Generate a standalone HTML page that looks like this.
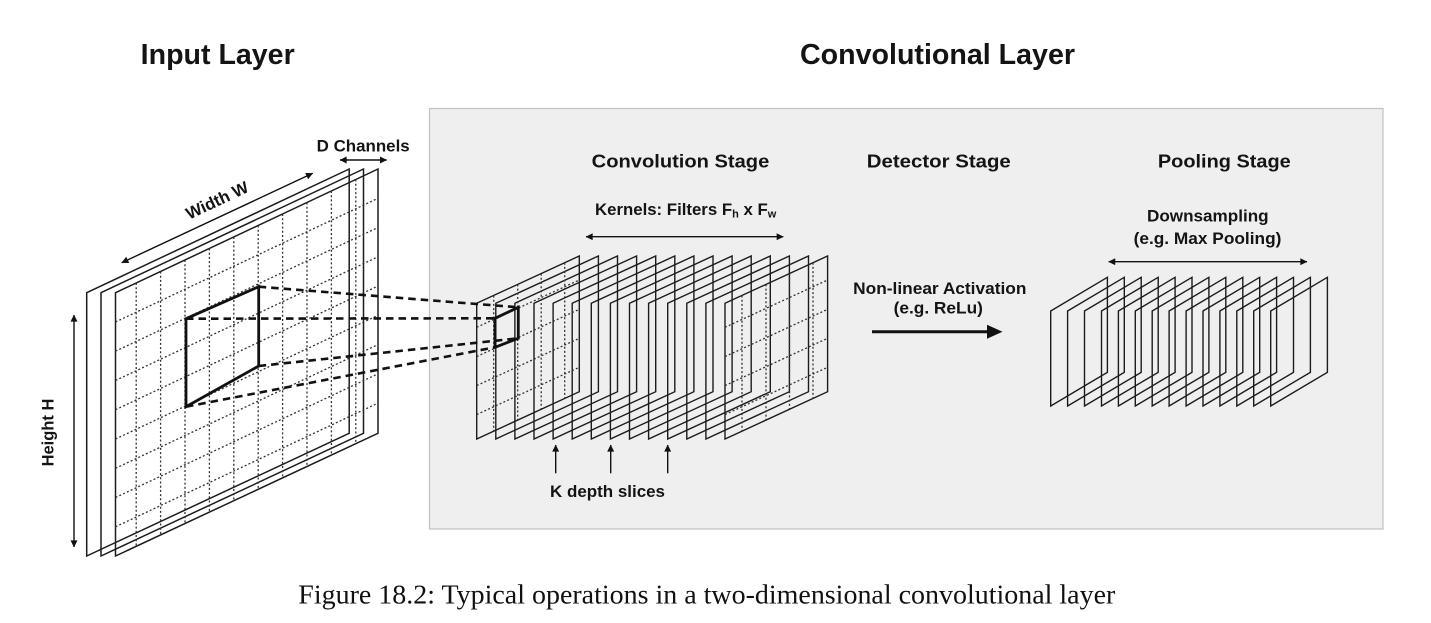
<!DOCTYPE html>
<html>
<head>
<meta charset="utf-8">
<style>
html,body{margin:0;padding:0;background:#ffffff;}
body{width:1431px;height:623px;overflow:hidden;}
svg{display:block;}
.t{font-family:"Liberation Sans",Arial,sans-serif;font-weight:700;fill:#141414;}
</style>
</head>
<body>
<svg width="1431" height="623" viewBox="0 0 1431 623" xmlns="http://www.w3.org/2000/svg">
<defs>
  <marker id="ah" viewBox="0 0 10 10" refX="9.5" refY="5" markerWidth="8" markerHeight="7" markerUnits="userSpaceOnUse" orient="auto-start-reverse">
    <path d="M0,0 L10,5 L0,10 z" fill="#111"/>
  </marker>
  <polygon id="cp" points="0,303.3 102.6,256 102.6,391.7 0,439" fill="none" stroke="#1c1c1c" stroke-width="1.4"/>
  <polygon id="pp" points="0,311 56.7,277.3 56.7,372.3 0,406" fill="none" stroke="#1c1c1c" stroke-width="1.4"/>
  <g id="cgrid" stroke="#333" stroke-width="1.3" stroke-dasharray="2 2.2" fill="none">
    <line x1="493.7" y1="295.5" x2="493.7" y2="431.2"/>
    <line x1="517.7" y1="284.4" x2="517.7" y2="420.1"/>
    <line x1="541.2" y1="273.6" x2="541.2" y2="409.3"/>
    <line x1="564.7" y1="262.7" x2="564.7" y2="398.4"/>
    <line x1="476.7" y1="327.3" x2="579.3" y2="280"/>
    <line x1="476.7" y1="356.6" x2="579.3" y2="309.3"/>
    <line x1="476.7" y1="385.6" x2="579.3" y2="338.3"/>
    <line x1="476.7" y1="414.6" x2="579.3" y2="367.3"/>
  </g>
</defs>

<!-- gray panel -->
<rect x="429.5" y="108.5" width="953.5" height="420.5" fill="#efefef" stroke="#c2c2c2" stroke-width="1.2"/>

<!-- Titles -->
<text class="t" x="140.7" y="64" font-size="28.5" textLength="154" lengthAdjust="spacingAndGlyphs">Input Layer</text>
<text class="t" x="800" y="64" font-size="28.5" textLength="275" lengthAdjust="spacingAndGlyphs">Convolutional Layer</text>

<!-- Stage labels -->
<text class="t" x="591.7" y="167.3" font-size="18.5" textLength="177.6" lengthAdjust="spacingAndGlyphs">Convolution Stage</text>
<text class="t" x="866.8" y="167.3" font-size="18.5" textLength="144" lengthAdjust="spacingAndGlyphs">Detector Stage</text>
<text class="t" x="1157.9" y="167.3" font-size="18.5" textLength="132.8" lengthAdjust="spacingAndGlyphs">Pooling Stage</text>

<!-- Kernels label -->
<text class="t" x="595" y="215" font-size="16.8">Kernels: Filters F<tspan font-size="11" dy="2.5">h</tspan><tspan dy="-2.5"> x F</tspan><tspan font-size="11" dy="2.5">w</tspan></text>
<line x1="586" y1="236.7" x2="783.3" y2="236.7" stroke="#111" stroke-width="1.4" marker-start="url(#ah)" marker-end="url(#ah)"/>

<!-- Downsampling -->
<text class="t" x="1147" y="221.5" font-size="16.8" textLength="121.6" lengthAdjust="spacingAndGlyphs">Downsampling</text>
<text class="t" x="1133.6" y="244" font-size="16.8" textLength="147.8" lengthAdjust="spacingAndGlyphs">(e.g. Max Pooling)</text>
<line x1="1108.6" y1="261.7" x2="1307" y2="261.7" stroke="#111" stroke-width="1.4" marker-start="url(#ah)" marker-end="url(#ah)"/>

<!-- Non-linear activation -->
<text class="t" x="853.2" y="294" font-size="16.8" textLength="173.2" lengthAdjust="spacingAndGlyphs">Non-linear Activation</text>
<text class="t" x="893.6" y="313.5" font-size="16.8" textLength="89.3" lengthAdjust="spacingAndGlyphs">(e.g. ReLu)</text>
<line x1="872" y1="331.7" x2="990" y2="331.7" stroke="#111" stroke-width="3"/>
<polygon points="987,324.7 1002.5,331.7 987,338.7" fill="#111"/>

<!-- K depth slices -->
<text class="t" x="550" y="497" font-size="16.8" textLength="115" lengthAdjust="spacingAndGlyphs">K depth slices</text>
<line x1="555.7" y1="473.3" x2="555.7" y2="445" stroke="#111" stroke-width="1.4" marker-end="url(#ah)"/>
<line x1="610.7" y1="473.3" x2="610.7" y2="445" stroke="#111" stroke-width="1.4" marker-end="url(#ah)"/>
<line x1="667.7" y1="473.3" x2="667.7" y2="445" stroke="#111" stroke-width="1.4" marker-end="url(#ah)"/>

<!-- D Channels -->
<text class="t" x="316.7" y="151.7" font-size="16.8" textLength="93" lengthAdjust="spacingAndGlyphs">D Channels</text>
<line x1="340" y1="160" x2="386.7" y2="160" stroke="#111" stroke-width="1.4" marker-start="url(#ah)" marker-end="url(#ah)"/>

<!-- Width W -->
<text class="t" font-size="16.8" text-anchor="middle" transform="translate(219.5,205.5) rotate(-25.1)">Width W</text>
<line x1="121.7" y1="262.7" x2="312.7" y2="173.3" stroke="#111" stroke-width="1.4" marker-start="url(#ah)" marker-end="url(#ah)"/>

<!-- Height H -->
<text class="t" font-size="16.5" text-anchor="middle" transform="translate(53.5,432.5) rotate(-90)">Height H</text>
<line x1="74" y1="315" x2="74" y2="547" stroke="#111" stroke-width="1.4" marker-start="url(#ah)" marker-end="url(#ah)"/>

<!-- Input planes -->
<g fill="none" stroke="#1c1c1c" stroke-width="1.5">
  <polygon points="86.7,292.7 349.2,169 349.2,433.3 86.7,556"/>
  <polygon points="101,292.7 363.5,169 363.5,433.3 101,556"/>
  <polygon points="115.5,292.7 378,169 378,433.3 115.5,556"/>
</g>
<!-- Input grid -->
<g stroke="#333" stroke-width="1.3" stroke-dasharray="2 2.2" fill="none">
  <line x1="136.2" y1="283" x2="136.2" y2="546.2"/>
  <line x1="160.6" y1="271.5" x2="160.6" y2="534.7"/>
  <line x1="185" y1="260" x2="185" y2="523.2"/>
  <line x1="209.4" y1="248.5" x2="209.4" y2="511.7"/>
  <line x1="233.8" y1="237" x2="233.8" y2="500.2"/>
  <line x1="258.2" y1="225.5" x2="258.2" y2="488.7"/>
  <line x1="282.6" y1="214" x2="282.6" y2="477.2"/>
  <line x1="307" y1="202.5" x2="307" y2="465.7"/>
  <line x1="331.4" y1="191" x2="331.4" y2="454.2"/>
  <line x1="355.8" y1="179.5" x2="355.8" y2="442.7"/>
  <line x1="115.5" y1="322" x2="378" y2="198.3"/>
  <line x1="115.5" y1="351.2" x2="378" y2="227.5"/>
  <line x1="115.5" y1="380.5" x2="378" y2="256.8"/>
  <line x1="115.5" y1="409.7" x2="378" y2="286"/>
  <line x1="115.5" y1="439" x2="378" y2="315.3"/>
  <line x1="115.5" y1="468.3" x2="378" y2="344.6"/>
  <line x1="115.5" y1="497.5" x2="378" y2="373.8"/>
  <line x1="115.5" y1="526.8" x2="378" y2="403.1"/>
</g>

<!-- Conv planes -->
<use href="#cp" x="476.7"/>
<use href="#cp" x="495.8"/>
<use href="#cp" x="514.9"/>
<use href="#cp" x="534.0"/>
<use href="#cp" x="553.1"/>
<use href="#cp" x="572.2"/>
<use href="#cp" x="591.3"/>
<use href="#cp" x="610.4"/>
<use href="#cp" x="629.5"/>
<use href="#cp" x="648.6"/>
<use href="#cp" x="667.7"/>
<use href="#cp" x="686.8"/>
<use href="#cp" x="705.9"/>
<use href="#cp" x="725.0"/>
<use href="#cgrid"/>
<use href="#cgrid" x="248.3"/>

<!-- Pooling planes -->
<use href="#pp" x="1050.7"/>
<use href="#pp" x="1067.6"/>
<use href="#pp" x="1084.5"/>
<use href="#pp" x="1101.5"/>
<use href="#pp" x="1118.4"/>
<use href="#pp" x="1135.3"/>
<use href="#pp" x="1152.2"/>
<use href="#pp" x="1169.1"/>
<use href="#pp" x="1186.1"/>
<use href="#pp" x="1203.0"/>
<use href="#pp" x="1219.9"/>
<use href="#pp" x="1236.8"/>
<use href="#pp" x="1253.7"/>
<use href="#pp" x="1270.7"/>

<!-- receptive field and dashed projections -->
<g stroke="#111" stroke-width="2.6" stroke-dasharray="7.5 5" fill="none">
  <line x1="258.7" y1="286.7" x2="518.3" y2="307.3"/>
  <line x1="186" y1="318.7" x2="495" y2="318.3"/>
  <line x1="258.7" y1="366" x2="518.3" y2="338.3"/>
  <line x1="186" y1="406.7" x2="495" y2="347.3"/>
</g>
<polygon points="186,318.7 258.7,286.7 258.7,366 186,406.7" fill="none" stroke="#111" stroke-width="2.8"/>
<polygon points="495,318.3 518.3,307.3 518.3,338.3 495,347.3" fill="none" stroke="#111" stroke-width="2.8"/>

<!-- Caption -->
<text x="298.3" y="603.3" font-family="'Liberation Serif','Times New Roman',serif" font-size="27.4" fill="#111" textLength="817" lengthAdjust="spacingAndGlyphs">Figure 18.2: Typical operations in a two-dimensional convolutional layer</text>
</svg>
</body>
</html>
